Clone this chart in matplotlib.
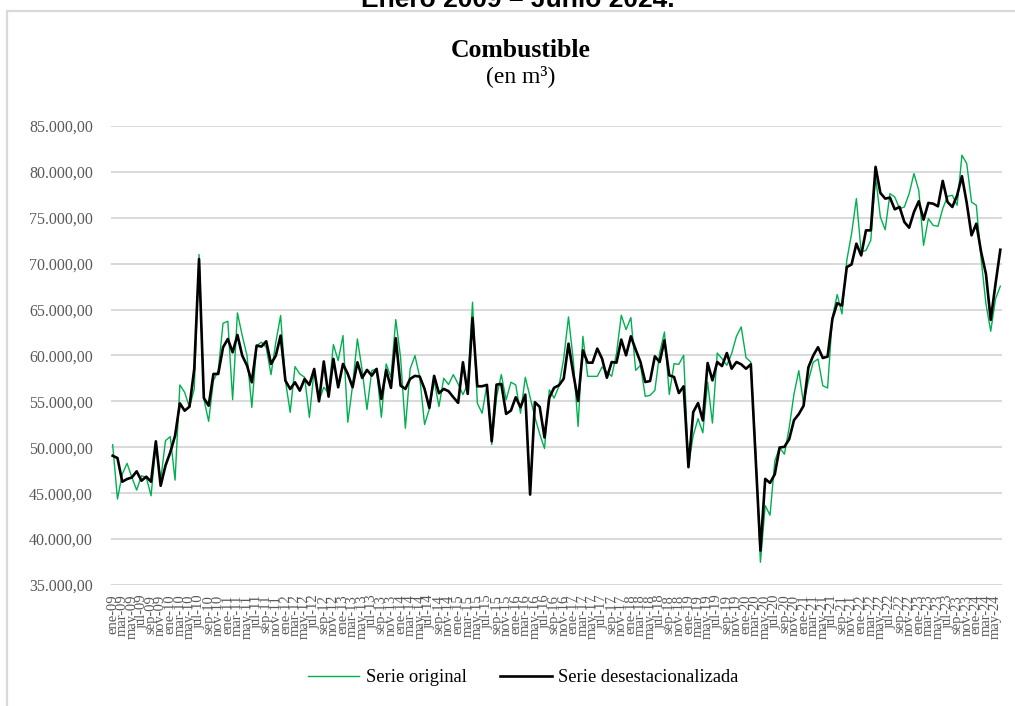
import matplotlib
matplotlib.use("Agg")
import matplotlib.pyplot as plt
from matplotlib.patches import Rectangle
from matplotlib.lines import Line2D

# monthly data, ene-2009 .. jun-2024 (m3)
serie_original = [
    50280, 44360, 47090, 48250, 46720, 45340, 46900, 46720, 44720, 50350, 46360, 50720,
    51160, 46430, 56790, 55990, 54350, 56350, 71000, 55260, 52830, 57260, 58350, 63510,
    63730, 55190, 64640, 62170, 59990, 54350, 61080, 61440, 60900, 57910, 61440, 64350,
    57260, 53810, 58790, 57990, 57630, 53260, 58530, 55080, 56540, 55900, 61190, 59450,
    62170, 52730, 56720, 61810, 58360, 54110, 58360, 58540, 53270, 59080, 57630, 63910,
    59810, 52080, 58540, 59990, 57630, 52480, 54180, 57270, 54440, 57520, 56830, 57920,
    56900, 55740, 56900, 65800, 54800, 53710, 56800, 50300, 55450, 57920, 55160, 57090,
    56800, 53710, 57630, 55450, 53270, 51460, 49870, 56260, 55360, 56640, 59650, 64200,
    59470, 52270, 62090, 57730, 57730, 57730, 58750, 58200, 57730, 60200, 64380, 62820,
    64130, 58380, 58930, 55550, 55660, 56200, 60270, 62560, 55760, 59110, 59040, 60020,
    48020, 51290, 53110, 51580, 57110, 52640, 60270, 59650, 58930, 60200, 62090, 63110,
    59760, 59290, 49660, 37480, 43660, 42600, 48520, 49980, 49250, 52160, 55800, 58350,
    54710, 57260, 59260, 59620, 56710, 56460, 64170, 66640, 64530, 70360, 73270, 77090,
    71270, 71450, 72540, 79450, 75090, 73700, 77630, 77270, 76000, 76180, 77630, 79820,
    78000, 72000, 74910, 74180, 74070, 76000, 77340, 77450, 76360, 81820, 80910, 76720,
    76360, 70540, 65630, 62640, 66170, 67550,
]

serie_desest = [
    49080, 48830, 46250, 46540, 46720, 47380, 46360, 46800, 46250, 50650, 45810, 48000,
    49450, 51260, 54790, 53990, 54420, 58530, 70500, 55370, 54530, 57990, 57990, 60890,
    61800, 60350, 62240, 59990, 58900, 57080, 61080, 60970, 61550, 59080, 59990, 62170,
    57260, 56350, 57080, 56170, 57440, 56790, 58530, 55010, 59350, 55520, 59630, 56540,
    59080, 57990, 56540, 59260, 57560, 58430, 57810, 58540, 55270, 58430, 56470, 61880,
    56720, 56360, 57450, 57780, 57700, 56360, 54290, 57780, 55890, 56360, 56110, 55450,
    54840, 59260, 55820, 64090, 56650, 56650, 56800, 50660, 56830, 56900, 53640, 54000,
    55450, 54360, 55740, 44850, 54910, 54400, 51070, 55400, 56490, 56750, 57470, 61290,
    58020, 55040, 60560, 59220, 59220, 60750, 59650, 57580, 59290, 59220, 61730, 60020,
    62090, 60640, 59290, 57110, 57220, 59910, 59290, 61660, 57840, 57660, 55910, 56640,
    47840, 53840, 54820, 52930, 59180, 57290, 59290, 58850, 60270, 58560, 59290, 59040,
    58560, 59040, 48930, 38750, 46560, 46120, 47070, 49980, 50050, 50890, 52960, 53620,
    54530, 58710, 59990, 60900, 59730, 59880, 63990, 65700, 65440, 69630, 69920, 72180,
    70900, 73630, 73630, 80550, 77710, 77090, 77200, 75920, 76180, 74540, 73920, 75630,
    76800, 74800, 76620, 76540, 76250, 79020, 76720, 76180, 77450, 79530, 76620, 73090,
    74360, 71270, 68900, 63880, 67810, 71520,
]

meses = ["ene", "feb", "mar", "abr", "may", "jun", "jul", "ago", "sep", "oct", "nov", "dic"]
etiquetas = [f"{meses[i % 12]}-{(9 + i // 12):02d}" for i in range(len(serie_original))]
y_ticks = list(range(35000, 85001, 5000))

VERDE = "#00b050"
GRIS = "#595959"
SERIF = "Liberation Serif"


def fmt_es(v):
    s = f"{v:,.2f}"
    return s.replace(",", "X").replace(".", ",").replace("X", ".")


fig = plt.figure(figsize=(10.15, 7.06), dpi=100)
W, H = 1015, 706

# chart frame (cut off at right/bottom like the screenshot)
fig.patches.append(Rectangle((7 / W, -0.1), 1.2, 1 - 11 / H + 0.1,
                             transform=fig.transFigure, fill=False,
                             edgecolor="#d9d9d9", lw=1.6))

fig.text(518 / W, 1 - 7 / H, "Enero 2009 – Junio 2024.", ha="center", va="baseline",
         fontsize=19, fontweight="bold", family="Liberation Sans")
fig.text(521 / W, 1 - 57 / H, "Combustible", ha="center", va="baseline",
         fontsize=18.5, fontweight="bold", family=SERIF)
fig.text(521 / W, 1 - 82 / H, "(en m³)", ha="center", va="baseline",
         fontsize=17, family=SERIF)

ax = fig.add_axes([111 / W, 1 - 585 / H, (1002 - 111) / W, (585 - 126) / H])
x = list(range(len(serie_original)))
ax.plot(x, serie_original, color=VERDE, lw=1.0)
ax.plot(x, serie_desest, color="black", lw=1.9)

ax.set_ylim(35000, 85000)
ax.set_xlim(-0.35, len(x) - 1 + 0.35)
ax.set_yticks(y_ticks)
ax.set_yticklabels([fmt_es(v) for v in y_ticks], family=SERIF, fontsize=11.5, color=GRIS)
ax.set_xticks(x[::2])
ax.set_xticklabels(etiquetas[::2], rotation=90, family=SERIF, fontsize=10.5,
                   color=GRIS, va="top")
ax.tick_params(length=0)
ax.tick_params(axis="y", pad=13)
ax.tick_params(axis="x", pad=7)
ax.grid(axis="y", color="#d9d9d9", lw=1.4)
ax.set_axisbelow(True)
for s in ax.spines.values():
    s.set_visible(False)

handles = [Line2D([], [], color=VERDE, lw=1.0), Line2D([], [], color="black", lw=1.9)]
fig.legend(handles, ["Serie original", "Serie desestacionalizada"], loc="center",
           bbox_to_anchor=(523 / W, 1 - 678 / H), ncol=2, frameon=False,
           prop={"family": SERIF, "size": 13.3}, handlelength=2.8,
           handletextpad=0.35, columnspacing=1.8)

fig.savefig("out.png", dpi=100)
